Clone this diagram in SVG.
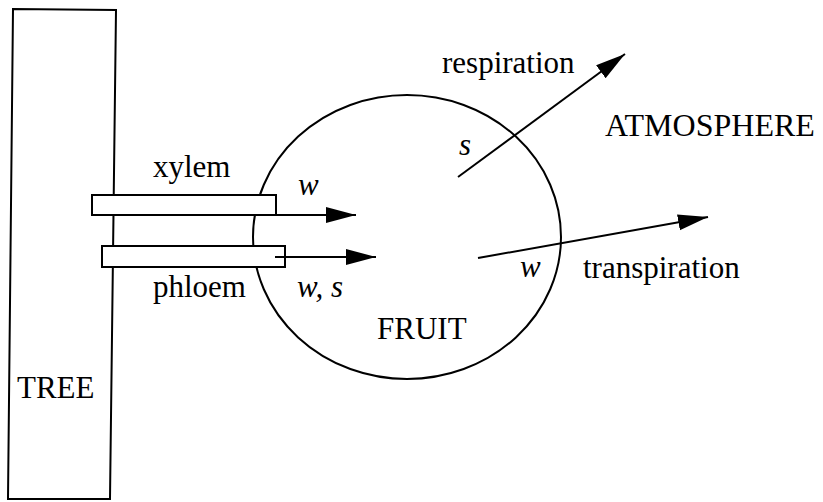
<svg xmlns="http://www.w3.org/2000/svg" width="823" height="502" viewBox="0 0 823 502">
<style>
.ln{fill:none;stroke:#000;stroke-width:2}
.bx{fill:#fff;stroke:#000;stroke-width:2}
.t{font-family:"Liberation Serif","Times New Roman",serif;font-size:31px;fill:#000}
.i{font-style:italic}
.big{font-size:32px}
</style>
<defs>
<marker id="ah" markerUnits="userSpaceOnUse" markerWidth="32" markerHeight="18" refX="30" refY="8" orient="auto">
<path d="M0,0 L30,8 L0,16 Z" fill="#000"/>
</marker>
</defs>
<rect width="823" height="502" fill="#fff"/>
<g id="tree">
<polygon class="ln" points="13,9 116,10 110,499 8,499"/>
<text class="t" x="17" y="398">TREE</text>
</g>
<g id="fruit">
<ellipse class="ln" cx="407" cy="237" rx="154" ry="142"/>
<text class="t" x="377" y="339">FRUIT</text>
</g>
<g id="xylem">
<rect class="bx" x="92" y="195" width="184" height="20"/>
<text class="t" x="153" y="177">xylem</text>
</g>
<g id="phloem">
<rect class="bx" x="102" y="246" width="183" height="21"/>
<text class="t" x="153" y="297">phloem</text>
</g>
<g id="atmosphere">
<text class="t big" x="605" y="136">ATMOSPHERE</text>
</g>
<g id="connectors">
<line class="ln" x1="276" y1="215" x2="356" y2="215" marker-end="url(#ah)"/>
<line class="ln" x1="275" y1="257" x2="376" y2="257" marker-end="url(#ah)"/>
<line class="ln" x1="458" y1="177" x2="625" y2="54" marker-end="url(#ah)"/>
<line class="ln" x1="478" y1="258" x2="708" y2="217" marker-end="url(#ah)"/>
</g>
<g id="labels">
<text class="t i" x="298" y="195">w</text>
<text class="t i" x="297" y="297">w, s</text>
<text class="t i" x="459" y="155">s</text>
<text class="t i" x="520" y="277">w</text>
<text class="t" x="442" y="73">respiration</text>
<text class="t" x="583" y="278">transpiration</text>
</g>
</svg>
